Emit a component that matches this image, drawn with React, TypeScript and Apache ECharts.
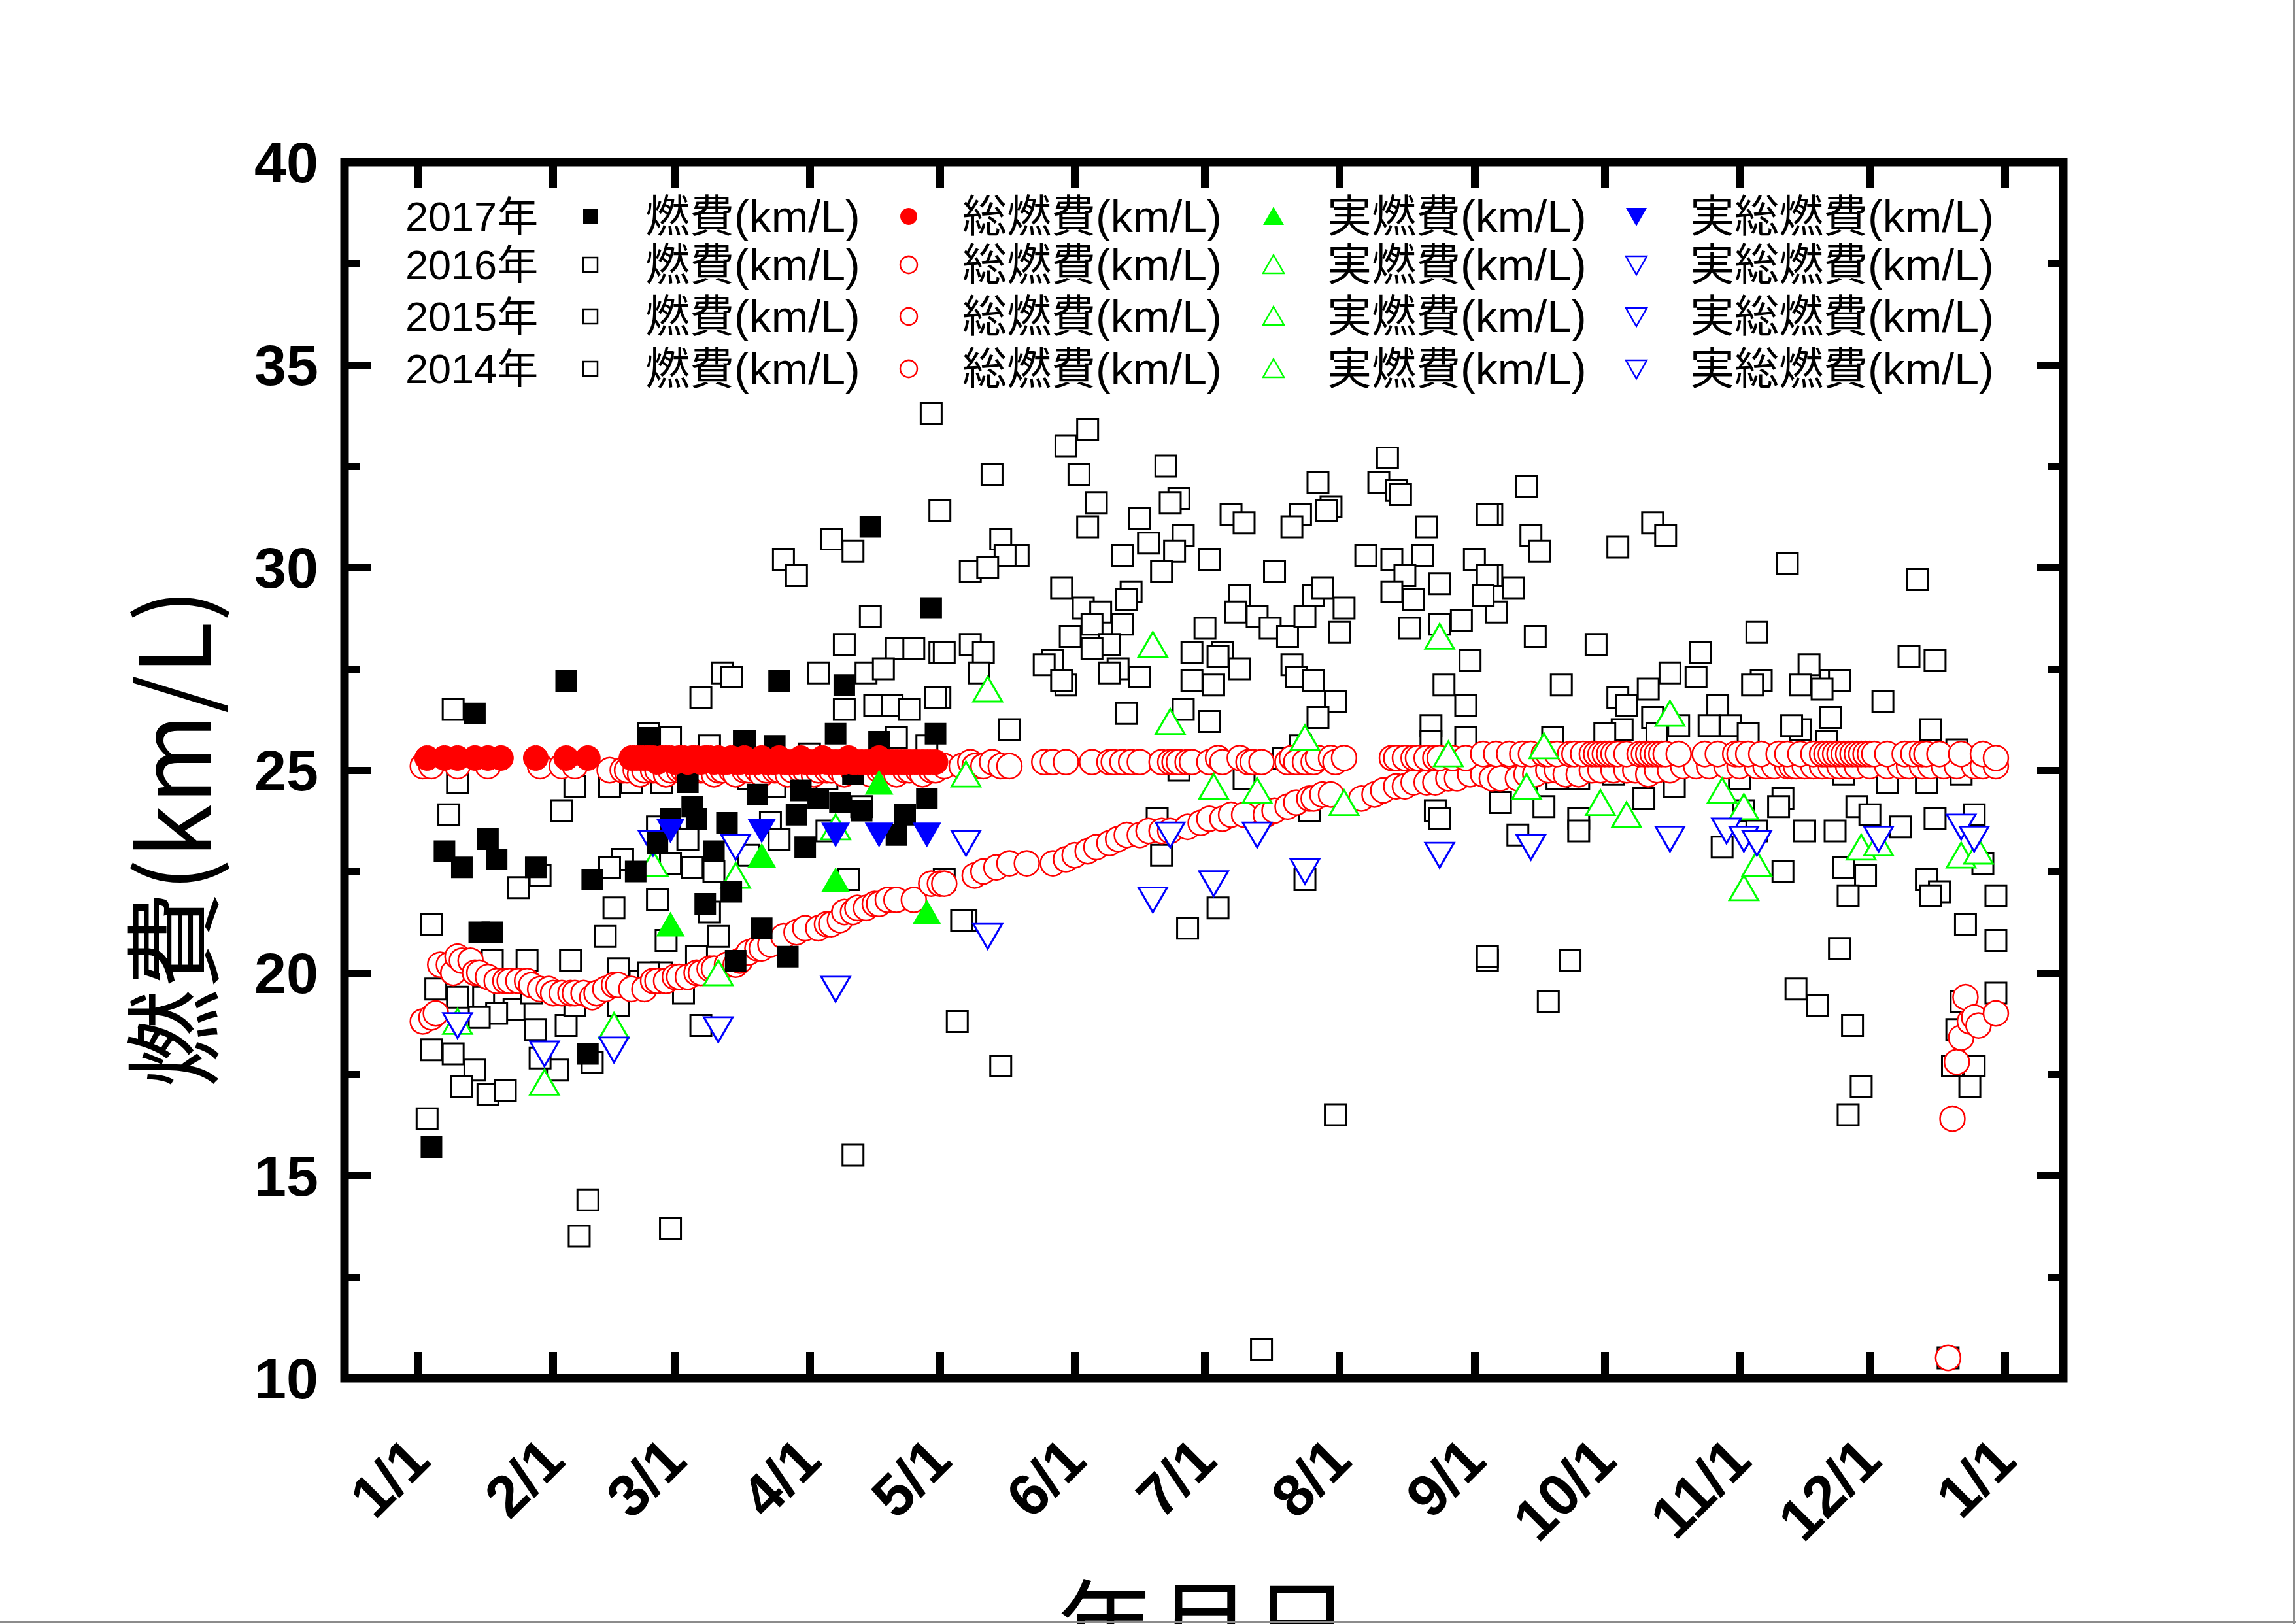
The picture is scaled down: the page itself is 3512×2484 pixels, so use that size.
import React, { useEffect, useRef } from 'react';
import * as echarts from 'echarts';

// ---- axis definitions (x = day of year, 0 = Jan 1) ----
const monthStarts = [0, 31, 59, 90, 120, 151, 181, 212, 243, 273, 304, 334, 365];
const monthLabels = ['1/1', '2/1', '3/1', '4/1', '5/1', '6/1', '7/1', '8/1', '9/1', '10/1', '11/1', '12/1', '1/1'];
const yearLabels = ['2017年', '2016年', '2015年', '2014年'];
const itemLabels = ['燃費(km/L)', '総燃費(km/L)', '実燃費(km/L)', '実総燃費(km/L)'];

// ---- 2017 ----
const fuel2017 = [
  [3, 15.7], [6, 23.0], [10, 22.6], [13, 26.4], [14, 21.0], [17, 21.0], [16, 23.3], [18, 22.8], [27, 22.6],
  [34, 27.2], [39, 18.0], [40, 22.3], [50, 22.5], [53, 25.8], [55, 23.2], [58, 23.8], [62, 24.7], [63, 24.1],
  [64, 23.8], [66, 21.7], [68, 23.0], [71, 23.7], [72, 22.0], [73, 20.3], [75, 25.7], [78, 24.4], [79, 21.1],
  [82, 25.6], [83, 27.2], [85, 20.4], [87, 23.9], [88, 24.5], [89, 23.1], [92, 24.3], [96, 25.9], [97, 24.2],
  [98, 27.1], [100, 24.9], [102, 24.0], [104, 31.0], [106, 25.7], [110, 23.4], [112, 23.9], [117, 24.3],
  [118, 29.0], [119, 25.9],
];
const total2017 = [
  [2, 25.3], [6, 25.3], [9, 25.3], [13, 25.3], [16, 25.3], [19, 25.3], [27, 25.3], [34, 25.3], [39, 25.3],
  [49, 25.3], [50, 25.3], [51, 25.3], [52, 25.3], [53, 25.3], [54, 25.3], [55, 25.2], [56, 25.3], [57, 25.3],
  [58, 25.3], [59, 25.2], [60, 25.3], [61, 25.3], [62, 25.2], [63, 25.3], [64, 25.3], [65, 25.2], [66, 25.3],
  [67, 25.3], [68, 25.2], [69, 25.3], [70, 25.2], [71, 25.2], [72, 25.3], [73, 25.2], [74, 25.2], [75, 25.3],
  [76, 25.2], [77, 25.2], [78, 25.2], [79, 25.3], [80, 25.2], [81, 25.2], [82, 25.2], [83, 25.3], [84, 25.2],
  [85, 25.2], [86, 25.2], [87, 25.2], [88, 25.3], [89, 25.2], [90, 25.2], [91, 25.2], [92, 25.2], [93, 25.3],
  [94, 25.2], [95, 25.2], [96, 25.2], [97, 25.2], [98, 25.2], [99, 25.3], [100, 25.2], [101, 25.2], [102, 25.2],
  [103, 25.2], [104, 25.2], [105, 25.2], [106, 25.3], [107, 25.2], [108, 25.2], [109, 25.2], [110, 25.2],
  [111, 25.2], [112, 25.2], [113, 25.2], [114, 25.2], [115, 25.2], [116, 25.2], [117, 25.2], [118, 25.2], [119, 25.2],
];
const real2017 = [[58, 21.2], [79, 22.9], [96, 22.3], [106, 24.7], [117, 21.5]];
const realTotal2017 = [[58, 23.5], [79, 23.5], [96, 23.4], [106, 23.4], [117, 23.4]];

// ---- 2016 / 2015 / 2014 : 燃費 ----
const fuel2016 = [
  [118, 33.8], [120, 31.4], [95, 30.7], [100, 30.4], [84, 30.2], [87, 29.8], [104, 28.8], [98, 28.1], [110, 28.0],
  [114, 28.0], [121, 27.9], [70, 27.4], [72, 27.3], [65, 26.8], [92, 27.4], [103, 27.4], [107, 27.5], [119, 26.8],
  [98, 26.5], [105, 26.6], [109, 26.6], [113, 26.5], [8, 26.5], [53, 25.9], [58, 25.8], [67, 25.6], [75, 25.7],
  [90, 25.4], [110, 25.8], [117, 25.6], [9, 24.7], [36, 24.6], [44, 24.6], [49, 24.7], [56, 24.7], [76, 24.8],
  [82, 24.6], [94, 24.8], [102, 24.1], [7, 23.9], [33, 24.0], [55, 23.6], [81, 23.7], [83, 23.3], [62, 23.3],
  [94, 23.5], [63, 22.6], [68, 22.5], [47, 22.8], [44, 22.6], [58, 22.7], [76, 22.9], [28, 22.4], [99, 22.3],
  [23, 22.1], [3, 21.2], [45, 21.6], [43, 20.9], [57, 20.8], [69, 20.9], [55, 21.8], [67, 21.5], [35, 20.3],
  [25, 20.3], [17, 20.3], [64, 20.4], [4, 19.6], [9, 19.4], [15, 19.4], [22, 19.1], [18, 19.0], [27, 18.6],
  [34, 18.7], [14, 18.9], [46, 19.2], [51, 19.8], [56, 20.0], [53, 20.0], [61, 19.5], [65, 18.7], [3, 18.1],
  [8, 18.0], [13, 17.6], [10, 17.2], [16, 17.0], [20, 17.1], [32, 17.6], [28, 17.9], [40, 17.8], [2, 16.4],
  [100, 15.5], [39, 14.4], [37, 13.5], [58, 13.7], [124, 18.8], [125, 21.3], [121, 22.3], [26, 19.5], [34, 19.5],
  [36, 19.2], [46, 20.1],
];
const fuel2015 = [
  [154, 33.4], [149, 33.0], [132, 32.3], [152, 32.3], [172, 32.5], [223, 32.7], [207, 32.1], [221, 32.1],
  [225, 31.9], [226, 31.8], [156, 31.6], [175, 31.7], [173, 31.6], [166, 31.2], [154, 31.0], [187, 31.3],
  [190, 31.1], [203, 31.3], [201, 31.0], [210, 31.5], [209, 31.4], [232, 31.0], [246, 31.3], [168, 30.6],
  [176, 30.8], [174, 30.4], [162, 30.3], [171, 29.9], [182, 30.2], [197, 29.9], [134, 30.7], [138, 30.3],
  [135, 30.3], [127, 29.9], [131, 30.0], [218, 30.3], [224, 30.2], [231, 30.3], [243, 30.2], [246, 29.8],
  [227, 29.8], [235, 29.6], [245, 29.3], [224, 29.4], [148, 29.5], [164, 29.4], [163, 29.2], [153, 29.0],
  [157, 28.9], [155, 28.6], [162, 28.6], [150, 28.3], [159, 28.1], [155, 28.0], [189, 29.3], [188, 28.9],
  [193, 28.8], [196, 28.5], [200, 28.3], [204, 28.8], [206, 29.3], [208, 29.5], [213, 29.0], [212, 28.4],
  [181, 28.5], [228, 28.5], [229, 29.2], [235, 28.6], [240, 28.7], [242, 27.7], [236, 27.1], [241, 26.6],
  [233, 26.1], [233, 25.7], [241, 25.8], [234, 24.0], [235, 23.8], [127, 28.1], [130, 27.9], [129, 27.4],
  [120, 27.9], [120, 26.8], [146, 27.7], [144, 27.6], [149, 27.1], [148, 27.2], [161, 27.5], [159, 27.4],
  [166, 27.3], [178, 27.9], [185, 27.9], [184, 27.8], [178, 27.2], [183, 27.1], [189, 27.5], [201, 27.6],
  [202, 27.3], [206, 27.2], [211, 26.7], [207, 26.3], [163, 26.4], [176, 26.5], [182, 26.2], [136, 26.0],
  [175, 25.0], [190, 24.8], [203, 25.6], [199, 25.3], [205, 24.0], [171, 22.9], [170, 23.8], [204, 22.3],
  [126, 21.3], [177, 21.1], [184, 21.6], [246, 20.4], [134, 17.7], [211, 16.5], [194, 10.7],
];
const fuel2014 = [
  [255, 32.0], [247, 31.3], [256, 30.8], [258, 30.4], [284, 31.1], [287, 30.8], [276, 30.5], [247, 29.8],
  [252, 29.5], [248, 28.9], [315, 30.1], [345, 29.7], [257, 28.3], [271, 28.1], [308, 28.4], [295, 27.9],
  [343, 27.8], [349, 27.7], [263, 27.1], [288, 27.4], [294, 27.3], [320, 27.6], [309, 27.2], [307, 27.1],
  [318, 27.1], [325, 27.2], [327, 27.2], [323, 27.0], [337, 26.7], [283, 27.0], [276, 26.8], [278, 26.6],
  [284, 26.3], [299, 26.6], [325, 26.3], [348, 26.0], [354, 25.5], [297, 26.1], [302, 26.1], [306, 25.9],
  [290, 26.1], [285, 25.9], [277, 26.0], [273, 25.9], [318, 26.0], [316, 26.1], [324, 25.7], [261, 25.8],
  [255, 24.7], [262, 24.8], [267, 24.8], [275, 24.9], [286, 25.1], [289, 24.6], [304, 24.8], [328, 24.9],
  [338, 24.7], [347, 24.7], [355, 24.9], [249, 24.2], [259, 24.1], [267, 23.8], [267, 23.5], [253, 23.4],
  [282, 24.3], [314, 24.3], [313, 24.1], [305, 24.0], [331, 24.1], [334, 23.9], [341, 23.6], [349, 23.8],
  [358, 23.9], [319, 23.5], [326, 23.5], [308, 23.5], [300, 23.1], [314, 22.5], [328, 22.6], [333, 22.4],
  [360, 22.7], [347, 22.3], [329, 21.9], [350, 22.0], [348, 21.9], [363, 21.9], [356, 21.2], [363, 20.8],
  [327, 20.6], [265, 20.3], [260, 19.3], [317, 19.6], [322, 19.2], [330, 18.7], [363, 19.5], [355, 19.3],
  [354, 18.6], [358, 17.7], [353, 17.7], [357, 17.2], [332, 17.2], [329, 16.5], [352, 10.5], [246, 20.3],
];

// ---- 総燃費 ----
const total2016 = [
  [352, 10.5], [353, 16.4], [354, 17.8], [355, 18.4], [356, 19.4], [357, 18.8], [358, 18.9], [359, 18.7], [363, 19.0],
];
const total2015 = [
  [1, 25.1], [3, 25.1], [9, 25.1], [16, 25.1], [28, 25.1], [33, 25.1], [36, 25.1], [44, 25.0], [47, 25.0],
  [48, 25.0], [50, 25.0], [51, 24.9], [52, 25.0], [54, 25.0], [55, 25.0], [57, 24.9], [58, 25.0], [60, 25.0],
  [61, 25.0], [62, 24.9], [64, 25.0], [65, 25.0], [66, 25.0], [68, 24.9], [69, 25.0], [70, 25.0], [72, 25.0],
  [73, 24.9], [75, 25.0], [76, 25.0], [78, 25.0], [79, 24.9], [80, 25.0], [82, 25.0], [83, 25.0], [85, 24.9],
  [86, 25.0], [88, 25.0], [89, 25.0], [91, 24.9], [92, 25.0], [94, 25.0], [95, 25.0], [97, 25.0], [98, 24.9],
  [100, 25.0], [101, 25.0], [103, 25.0], [104, 24.9], [106, 25.0], [107, 25.0], [109, 25.0], [110, 24.9],
  [112, 25.0], [113, 25.0], [115, 25.0], [116, 24.9], [118, 25.0], [119, 25.0],
  [121, 25.1], [125, 25.1], [127, 25.2], [128, 25.1], [130, 25.1], [132, 25.2], [134, 25.1], [136, 25.1],
  [144, 25.2], [146, 25.2], [149, 25.2], [155, 25.2], [159, 25.2], [160, 25.2], [162, 25.2], [164, 25.2],
  [166, 25.2], [171, 25.2], [173, 25.2], [174, 25.2], [175, 25.2], [177, 25.2], [178, 25.2], [182, 25.2],
  [184, 25.3], [185, 25.2], [189, 25.3], [191, 25.2], [192, 25.2], [194, 25.2], [200, 25.2], [201, 25.3],
  [202, 25.2], [204, 25.2], [206, 25.2], [207, 25.3], [210, 25.3], [211, 25.2], [213, 25.3], [224, 25.3],
  [225, 25.3], [227, 25.3], [229, 25.3], [230, 25.3], [232, 25.3], [234, 25.3], [235, 25.3], [238, 25.3],
  [241, 25.3], [245, 25.4], [248, 25.4], [251, 25.4], [254, 25.4], [256, 25.4], [259, 25.4], [260, 25.4],
  [262, 25.4], [265, 25.4], [266, 25.4], [268, 25.4], [270, 25.4], [271, 25.4], [272, 25.4], [273, 25.4],
  [274, 25.4], [275, 25.4], [276, 25.4], [278, 25.4], [281, 25.4], [282, 25.4], [283, 25.4], [284, 25.4],
  [285, 25.4], [286, 25.4], [287, 25.4], [290, 25.4], [296, 25.4], [299, 25.4], [303, 25.4], [304, 25.4],
  [306, 25.4], [309, 25.4], [313, 25.4], [315, 25.4], [318, 25.4], [321, 25.4], [323, 25.4], [324, 25.4],
  [325, 25.4], [326, 25.4], [327, 25.4], [328, 25.4], [329, 25.4], [330, 25.4], [331, 25.4], [332, 25.4],
  [333, 25.4], [334, 25.4], [335, 25.4], [338, 25.4], [342, 25.4], [344, 25.4], [346, 25.4], [347, 25.4],
  [350, 25.4], [355, 25.4], [360, 25.4], [363, 25.3],
];
const total2014 = [
  [1, 18.8], [3, 18.9], [4, 19.0], [5, 20.2], [7, 20.2], [8, 20.0], [9, 20.4], [10, 20.3], [12, 20.3], [13, 20.0],
  [14, 20.0], [16, 19.9], [18, 19.8], [20, 19.8], [21, 19.8], [23, 19.8], [25, 19.8], [26, 19.7], [28, 19.6],
  [30, 19.6], [31, 19.5], [33, 19.5], [35, 19.5], [36, 19.5], [38, 19.5], [40, 19.4], [41, 19.5], [43, 19.6],
  [45, 19.7], [46, 19.7], [49, 19.6], [52, 19.6], [54, 19.8], [55, 19.8], [57, 19.8], [59, 19.9], [60, 19.9],
  [62, 19.9], [64, 20.0], [65, 20.0], [67, 20.1], [68, 20.1], [71, 20.2], [73, 20.2], [74, 20.3], [76, 20.5],
  [78, 20.6], [79, 20.6], [81, 20.7], [84, 20.9], [87, 21.0], [89, 21.1], [92, 21.1], [94, 21.2], [95, 21.2],
  [97, 21.3], [98, 21.5], [100, 21.5], [101, 21.6], [103, 21.6], [105, 21.7], [106, 21.7], [108, 21.8],
  [110, 21.8], [114, 21.8], [118, 22.2], [120, 22.2], [121, 22.2], [128, 22.4], [130, 22.5], [133, 22.6],
  [136, 22.7], [140, 22.7], [146, 22.7], [149, 22.8], [151, 22.9], [154, 23.0], [156, 23.1], [159, 23.2],
  [161, 23.3], [163, 23.4], [166, 23.4], [168, 23.5], [171, 23.5], [173, 23.5], [177, 23.6], [180, 23.7],
  [182, 23.8], [185, 23.8], [187, 23.9], [190, 23.9], [195, 23.9], [197, 24.0], [200, 24.1], [202, 24.2],
  [205, 24.3], [206, 24.3], [208, 24.4], [210, 24.4], [217, 24.3], [220, 24.4], [222, 24.5], [225, 24.6],
  [227, 24.6], [229, 24.7], [232, 24.7], [234, 24.7], [237, 24.8], [239, 24.8], [242, 24.9], [245, 24.9],
  [247, 24.8], [249, 24.8], [253, 24.8], [255, 24.9], [257, 24.9], [260, 25.0], [262, 25.0], [264, 24.9],
  [267, 24.9], [270, 25.0], [272, 25.0], [275, 25.0], [278, 25.0], [280, 25.0], [283, 24.9], [285, 25.0],
  [288, 25.0], [291, 25.1], [294, 25.1], [297, 25.1], [301, 25.1], [304, 25.1], [308, 25.1], [310, 25.1],
  [312, 25.1], [315, 25.1], [316, 25.1], [317, 25.1], [319, 25.1], [321, 25.1], [323, 25.1], [325, 25.1],
  [327, 25.1], [329, 25.1], [331, 25.1], [334, 25.1], [338, 25.1], [341, 25.1], [343, 25.1], [346, 25.1],
  [348, 25.1], [351, 25.1], [354, 25.1], [358, 25.1], [360, 25.1], [363, 25.1],
];

// ---- 実燃費 ----
const real2016 = [[9, 18.8], [29, 17.3], [45, 18.7], [54, 22.7], [69, 20.0], [73, 22.4], [96, 23.6], [126, 24.9], [131, 27.0], [169, 28.1]];
const real2015 = [[173, 26.2], [183, 24.6], [193, 24.5], [204, 25.8], [213, 24.2], [235, 28.3], [237, 25.4], [255, 24.6], [259, 25.6], [272, 24.2]];
const real2014 = [[278, 23.9], [288, 26.4], [300, 24.5], [305, 24.1], [305, 22.1], [308, 22.7], [332, 23.1], [336, 23.2], [355, 22.9], [359, 23.0]];

// ---- 実総燃費 ----
const realTotal2016 = [[9, 18.7], [29, 18.0], [45, 18.1], [54, 23.2], [69, 18.6], [73, 23.1], [96, 19.6], [126, 23.2]];
const realTotal2015 = [[131, 20.9], [169, 21.8], [173, 23.4], [183, 22.2], [193, 23.4], [204, 22.5], [235, 22.9]];
const realTotal2014 = [[256, 23.1], [288, 23.3], [301, 23.5], [305, 23.3], [308, 23.2], [336, 23.3], [355, 23.6], [358, 23.3]];

// ---- styling ----
const BLACK = '#000000';
const RED = '#ff0000';
const GREEN = '#00ff00';
const BLUE = '#0000ff';
const LATIN = '"Liberation Sans", Arial, "Noto Sans CJK JP", sans-serif';
const CJK = '"Noto Sans CJK JP", "Liberation Sans", sans-serif';

const GRID = { left: 527, top: 248, width: 2629, height: 1860 };

function sq(name: string, data: number[][], filled: boolean) {
  return {
    type: 'scatter', name, data, symbol: 'rect', symbolSize: filled ? 33 : 32,
    itemStyle: filled
      ? { color: BLACK, opacity: 1 }
      : { color: '#ffffff', borderColor: BLACK, borderWidth: 3, opacity: 1 },
    emphasis: { disabled: true },
  };
}
function circ(name: string, data: number[][], filled: boolean) {
  return {
    type: 'scatter', name, data, symbol: 'circle', symbolSize: 38,
    itemStyle: filled
      ? { color: RED, borderColor: RED, borderWidth: 1, opacity: 1 }
      : { color: '#ffffff', borderColor: RED, borderWidth: 2.5, opacity: 1 },
    emphasis: { disabled: true },
  };
}
function tri(name: string, data: number[][], filled: boolean, color: string, down: boolean) {
  return {
    type: 'scatter', name, data, symbol: 'triangle', symbolSize: [44, 38], symbolRotate: down ? 180 : 0,
    itemStyle: filled
      ? { color, opacity: 1 }
      : { color: '#ffffff', borderColor: color, borderWidth: 3, opacity: 1 },
    emphasis: { disabled: true },
  };
}

// legend block layout
const legendRows = [331, 405, 484, 564];
const legendYearX = 620;
const legendMarkX = [903, 1390, 1948, 2503];
const legendTextX = [987, 1472, 2030, 2585];

function legendMarker(kind: number, cx: number, cy: number, filled: boolean): any {
  if (kind === 0) {
    return {
      type: 'rect', shape: { x: cx - 11, y: cy - 11, width: 22, height: 22 },
      style: filled ? { fill: BLACK } : { fill: '#ffffff', stroke: BLACK, lineWidth: 2.5 },
    };
  }
  if (kind === 1) {
    return {
      type: 'circle', shape: { cx, cy, r: 13 },
      style: filled ? { fill: RED } : { fill: '#ffffff', stroke: RED, lineWidth: 2.5 },
    };
  }
  if (kind === 2) {
    return {
      type: 'polygon', shape: { points: [[cx, cy - 15], [cx + 16, cy + 13], [cx - 16, cy + 13]] },
      style: filled ? { fill: GREEN } : { fill: '#ffffff', stroke: GREEN, lineWidth: 2.5 },
    };
  }
  return {
    type: 'polygon', shape: { points: [[cx - 16, cy - 13], [cx + 16, cy - 13], [cx, cy + 15]] },
    style: filled ? { fill: BLUE } : { fill: '#ffffff', stroke: BLUE, lineWidth: 2.5 },
  };
}

function buildLegend(): any[] {
  const els: any[] = [];
  legendRows.forEach((cy, r) => {
    const filled = r === 0;
    els.push({
      type: 'text', x: legendYearX, y: cy,
      style: { text: yearLabels[r], fontSize: 63, fontFamily: LATIN, fill: BLACK, textAlign: 'left', textVerticalAlign: 'middle' },
    });
    for (let k = 0; k < 4; k++) {
      els.push(legendMarker(k, legendMarkX[k], cy, filled));
      els.push({
        type: 'text', x: legendTextX[k], y: cy,
        style: { text: itemLabels[k], fontSize: 68, fontFamily: LATIN, fill: BLACK, textAlign: 'left', textVerticalAlign: 'middle' },
      });
    }
  });
  return els;
}

export default function App() {
  const ref = useRef<HTMLDivElement>(null);

  useEffect(() => {
    if (!ref.current) return;
    const chart = echarts.init(ref.current, undefined, { renderer: 'svg' });

    const xTick = { show: true, inside: true, length: 40, customValues: monthStarts, lineStyle: { color: BLACK, width: 12 } };
    const yTick = { show: true, inside: true, length: 40, lineStyle: { color: BLACK, width: 11 } };
    const yMinor = { show: true, splitNumber: 2, length: 24, lineStyle: { color: BLACK, width: 11 } };
    const noLine = { show: false, onZero: false };

    const option: any = {
      animation: false,
      backgroundColor: '#ffffff',
      grid: { ...GRID, show: true, borderColor: BLACK, borderWidth: 13, backgroundColor: 'transparent' },
      xAxis: [
        {
          type: 'value', min: -17, max: 378.5, position: 'bottom',
          axisLine: noLine, splitLine: { show: false },
          axisTick: xTick,
          axisLabel: {
            customValues: monthStarts, rotate: 45, margin: 108,
            formatter: (v: number) => { const i = monthStarts.indexOf(v); return i >= 0 ? monthLabels[i] : ''; },
            fontSize: 90, fontWeight: 'bold', fontFamily: LATIN, color: BLACK,
          },
        },
        {
          type: 'value', min: -17, max: 378.5, position: 'top',
          axisLine: noLine, splitLine: { show: false },
          axisTick: xTick, axisLabel: { show: false },
        },
      ],
      yAxis: [
        {
          type: 'value', min: 10, max: 40, interval: 5, position: 'left',
          axisLine: noLine, splitLine: { show: false }, minorSplitLine: { show: false },
          axisTick: yTick, minorTick: yMinor,
          axisLabel: { margin: 40, fontSize: 88, fontWeight: 'bold', fontFamily: LATIN, color: BLACK },
        },
        {
          type: 'value', min: 10, max: 40, interval: 5, position: 'right',
          axisLine: noLine, splitLine: { show: false }, minorSplitLine: { show: false },
          axisTick: yTick, minorTick: yMinor, axisLabel: { show: false },
        },
      ],
      series: [
        sq('2014年 燃費(km/L)', fuel2014, false),
        sq('2015年 燃費(km/L)', fuel2015, false),
        sq('2016年 燃費(km/L)', fuel2016, false),
        circ('2014年 総燃費(km/L)', total2014, false),
        circ('2015年 総燃費(km/L)', total2015, false),
        circ('2016年 総燃費(km/L)', total2016, false),
        tri('2014年 実燃費(km/L)', real2014, false, GREEN, false),
        tri('2015年 実燃費(km/L)', real2015, false, GREEN, false),
        tri('2016年 実燃費(km/L)', real2016, false, GREEN, false),
        tri('2014年 実総燃費(km/L)', realTotal2014, false, BLUE, true),
        tri('2015年 実総燃費(km/L)', realTotal2015, false, BLUE, true),
        tri('2016年 実総燃費(km/L)', realTotal2016, false, BLUE, true),
        sq('2017年 燃費(km/L)', fuel2017, true),
        circ('2017年 総燃費(km/L)', total2017, true),
        tri('2017年 実燃費(km/L)', real2017, true, GREEN, false),
        tri('2017年 実総燃費(km/L)', realTotal2017, true, BLUE, true),
      ],
      graphic: [
        ...buildLegend(),
        {
          type: 'text', x: 256, y: 1282, rotation: Math.PI / 2,
          style: { text: '燃費(km/L)', fontSize: 150, fontFamily: CJK, fill: BLACK, textAlign: 'center', textVerticalAlign: 'middle' },
        },
        {
          type: 'text', x: 1841, y: 2476,
          style: { text: '年月日', fontSize: 150, fontFamily: CJK, fill: BLACK, textAlign: 'center', textVerticalAlign: 'middle' },
        },
        { type: 'line', shape: { x1: 3509, y1: 0, x2: 3509, y2: 2484 }, style: { stroke: '#8c8c8c', lineWidth: 3 } },
        { type: 'line', shape: { x1: 0, y1: 2481, x2: 3512, y2: 2481 }, style: { stroke: '#8c8c8c', lineWidth: 3 } },
      ],
    };

    chart.setOption(option);
    return () => chart.dispose();
  }, []);

  return (
    <div
      ref={ref}
      style={{ position: 'fixed', left: 0, top: 0, width: 3512, height: 2484, background: '#ffffff' }}
    />
  );
}
